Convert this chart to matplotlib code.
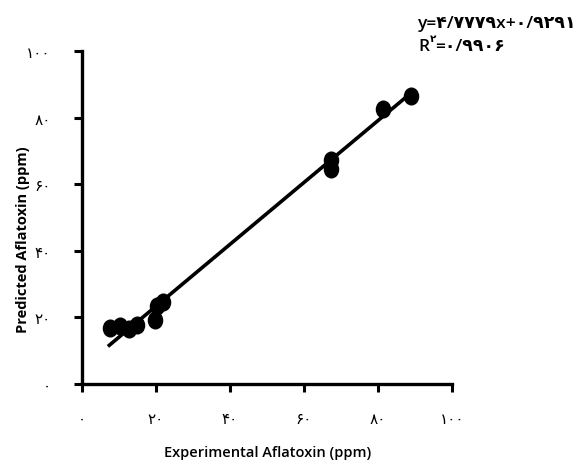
import matplotlib
matplotlib.use("Agg")
import matplotlib.pyplot as plt
import matplotlib.path as mpath
from matplotlib.transforms import Affine2D
import numpy as np

# داده‌ها (خوانده شده از تصویر)
exp_x  = [7.6, 10.3, 12.7, 14.9, 19.7, 20.3, 21.9, 67.3, 67.3, 81.4, 88.9]
pred_y = [16.8, 17.4, 16.5, 17.7, 19.2, 23.4, 24.6, 67.3, 64.6, 82.6, 86.5]

# fitted line as drawn
slope, intercept = 0.9291, 4.7779
line_x = [7.0, 89.5]

ticks = [0, 20, 40, 60, 80, 100]
tick_labels = ['۰', '۲۰', '۴۰', '۶۰', '۸۰', '۱۰۰']
eq_text = 'y=۴/۷۷۷۹x+۰/۹۲۹۱'
r2_parts = ['R', '۲', '=۰/۹۹۰۶']

fam = ['Open Sans', 'DejaVu Sans']

fig = plt.figure(figsize=(5.81, 4.64), dpi=100)
ax = fig.add_axes([82/581, 1 - 385/464, 370/581, 333/464])

lx = np.array(line_x)
ax.plot(lx, slope * lx + intercept, color='black', linewidth=2.6, solid_capstyle='butt', zorder=2)

oval = mpath.Path.unit_circle().transformed(Affine2D().scale(1.0, 1.18))
ax.plot(exp_x, pred_y, linestyle='none', marker=oval, markersize=12,
        color='black', zorder=3)

ax.set_xlim(0, 100)
ax.set_ylim(0, 100)
ax.set_xticks(ticks)
ax.set_yticks(ticks)
ax.set_xticklabels(tick_labels, family=['DejaVu Sans'], fontsize=11)
ax.set_yticklabels(tick_labels, family=['DejaVu Sans'], fontsize=11)
ax.tick_params(axis='both', direction='out', length=5.5, width=2.2, color='black')
ax.tick_params(axis='x', pad=14)
ax.tick_params(axis='y', pad=17)

for s in ['top', 'right']:
    ax.spines[s].set_visible(False)
for s in ['left', 'bottom']:
    ax.spines[s].set_linewidth(2.4)

ax.set_xlabel('Experimental Aflatoxin (ppm)', family=fam, fontsize=10.5,
              fontweight='semibold')
ax.set_ylabel('Predicted Aflatoxin (ppm)', family=fam, fontsize=10.5,
              fontweight='bold')
ax.xaxis.set_label_coords(186/370, -61/333)
ax.yaxis.set_label_coords(-52/370, 145/333)

# equation text
fs_eq = 12.5
fig.text(418/581, 1 - 24/464, eq_text, family=fam, fontsize=fs_eq,
         fontweight='semibold', ha='left', va='center')
fig.text(418/581, 1 - 47/464, r2_parts[0], family=fam, fontsize=fs_eq,
         fontweight='semibold', ha='left', va='center')
fig.text(429.5/581, 1 - 40/464, r2_parts[1], family=fam, fontsize=7.5,
         fontweight='semibold', ha='left', va='center')
fig.text(435/581, 1 - 47/464, r2_parts[2], family=fam, fontsize=fs_eq,
         fontweight='semibold', ha='left', va='center')

fig.savefig('out.png', dpi=100)
